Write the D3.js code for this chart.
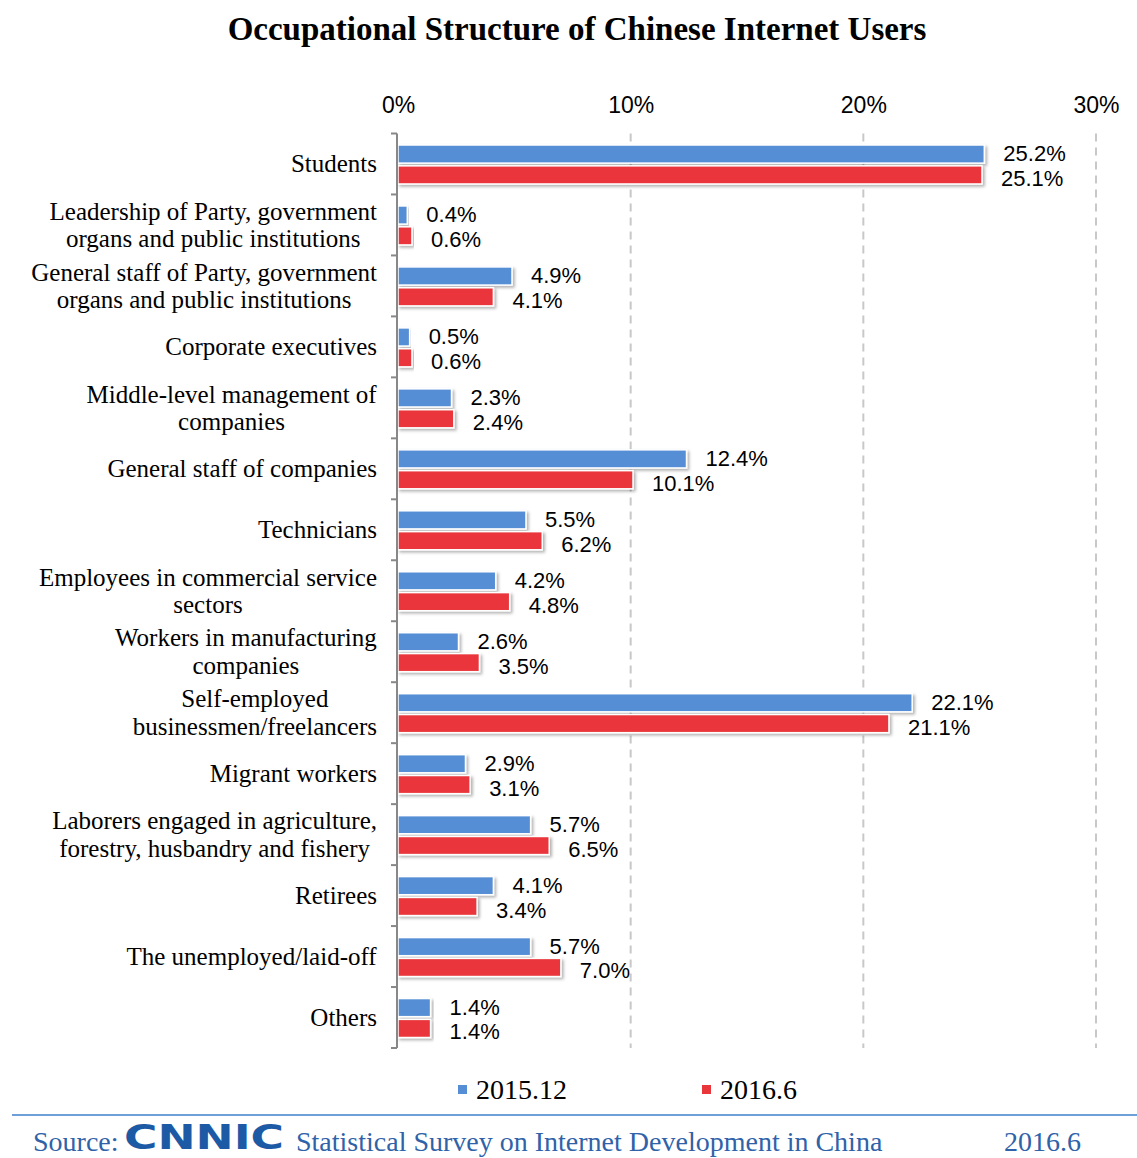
<!DOCTYPE html>
<html><head><meta charset="utf-8">
<script src="https://cdn.jsdelivr.net/npm/d3@7"></script>
<style>
html,body{margin:0;padding:0;background:#fff;}
svg{display:block;}
</style></head>
<body>
<svg id="chart" width="1137" height="1158"></svg>
<script>
const categories = [
  ["Students"],
  ["Leadership of Party, government","organs and public institutions"],
  ["General staff of Party, government","organs and public institutions"],
  ["Corporate executives"],
  ["Middle-level management of","companies"],
  ["General staff of companies"],
  ["Technicians"],
  ["Employees in commercial service","sectors"],
  ["Workers in manufacturing","companies"],
  ["Self-employed","businessmen/freelancers"],
  ["Migrant workers"],
  ["Laborers engaged in agriculture,","forestry, husbandry and fishery"],
  ["Retirees"],
  ["The unemployed/laid-off"],
  ["Others"]
];
const seriesNames = ["2015.12", "2016.6"];
const values2015 = [25.2, 0.4, 4.9, 0.5, 2.3, 12.4, 5.5, 4.2, 2.6, 22.1, 2.9, 5.7, 4.1, 5.7, 1.4];
const values2016 = [25.1, 0.6, 4.1, 0.6, 2.4, 10.1, 6.2, 4.8, 3.5, 21.1, 3.1, 6.5, 3.4, 7.0, 1.4];
const xTicks = [0, 10, 20, 30];
const colors = ["#558ed5", "#e9363a"];

(function () {
const svg = d3.select("#chart");
const serif = "'Liberation Serif','Times New Roman',serif";
const sans = "'Liberation Sans',Arial,sans-serif";

const x = d3.scaleLinear().domain([0, 30]).range([398, 1096]);
const keys = categories.map((d, i) => i);
const plotTop = 133.5, plotBottom = 1048;
const y = d3.scaleBand().domain(keys).range([plotTop, plotBottom]).paddingInner(0).paddingOuter(0);
const ySub = d3.scaleBand().domain([0, 1]).range([11.5, y.bandwidth() - 10.5]).paddingInner(0.13);

// defs: shadow
const defs = svg.append("defs");
const f = defs.append("filter").attr("id", "sh").attr("x", "-5%").attr("y", "-30%").attr("width", "115%").attr("height", "170%");
f.append("feDropShadow").attr("dx", 2).attr("dy", 2).attr("stdDeviation", 1.5).attr("flood-color", "#000").attr("flood-opacity", 0.3);

// title
svg.append("text").attr("x", 577).attr("y", 40).attr("text-anchor", "middle")
  .style("font-family", serif).style("font-weight", "bold").style("font-size", "33px")
  .text("Occupational Structure of Chinese Internet Users");

// gridlines
svg.append("g").selectAll("line").data(xTicks.filter(d => d > 0)).join("line")
  .attr("x1", d => x(d)).attr("x2", d => x(d)).attr("y1", plotTop).attr("y2", plotBottom)
  .attr("stroke", "#c8c8c8").attr("stroke-width", 2).attr("stroke-dasharray", "8,6");

// top axis labels
const xAxis = d3.axisTop(x).tickValues(xTicks).tickFormat(d => d + "%").tickSize(0).tickPadding(0);
const gx = svg.append("g").attr("transform", "translate(0,113)").call(xAxis);
gx.select(".domain").remove();
gx.selectAll("text").style("font-family", sans).style("font-size", "23px").attr("fill", "#000");

// bars
const series = [values2015, values2016];
const labelShift = [-0.5, 3.5];
const gBars = svg.append("g");
series.forEach((vals, si) => {
  gBars.append("g").selectAll("rect").data(vals).join("rect")
    .attr("x", x(0)).attr("y", (d, i) => y(i) + ySub(si))
    .attr("width", d => x(d) - x(0)).attr("height", ySub.bandwidth())
    .attr("fill", colors[si]).attr("stroke", "#fff").attr("stroke-width", 1.5)
    .attr("filter", "url(#sh)");
  gBars.append("g").selectAll("text").data(vals).join("text")
    .attr("x", d => x(d) + 19).attr("y", (d, i) => y(i) + ySub(si) + ySub.bandwidth() / 2 + labelShift[si])
    .attr("dominant-baseline", "central")
    .style("font-family", sans).style("font-size", "22px").attr("fill", "#000")
    .text(d => d.toFixed(1) + "%");
});

// y axis
const yAxisG = svg.append("g");
yAxisG.append("line").attr("x1", 397).attr("x2", 397).attr("y1", plotTop).attr("y2", plotBottom)
  .attr("stroke", "#888").attr("stroke-width", 2);
const bounds = keys.map(k => y(k)).concat([plotBottom]);
yAxisG.selectAll("line.t").data(bounds).join("line").attr("class", "t")
  .attr("x1", 391).attr("x2", 397).attr("y1", d => d).attr("y2", d => d)
  .attr("stroke", "#888").attr("stroke-width", 2);

// category labels
const gLab = svg.append("g").style("font-family", serif).style("font-size", "25px").attr("fill", "#000");
categories.forEach((lines, i) => {
  const cy = y(i) + y.bandwidth() / 2;
  const lh = 27.5;
  const t = gLab.append("text").attr("text-anchor", "middle");
  lines.forEach((ln, j) => {
    t.append("tspan").attr("x", 0)
      .attr("y", cy + (j - (lines.length - 1) / 2) * lh)
      .attr("dominant-baseline", "central").text(ln);
  });
  const w = t.node().getBBox().width;
  t.attr("transform", `translate(${377 - w / 2},0)`);
});

// legend
const lg = svg.append("g").style("font-family", serif).style("font-size", "28px");
const legX = [458, 702];
seriesNames.forEach((n, i) => {
  lg.append("rect").attr("x", legX[i]).attr("y", 1085).attr("width", 9).attr("height", 9).attr("fill", colors[i]);
  lg.append("text").attr("x", legX[i] + 18).attr("y", 1099).text(n);
});

// footer
svg.append("line").attr("x1", 12).attr("x2", 1137).attr("y1", 1115).attr("y2", 1115)
  .attr("stroke", "#6f9fd8").attr("stroke-width", 2);
const ft = svg.append("g").style("font-family", serif).style("font-size", "28px").attr("fill", "#2f62a8");
ft.append("text").attr("x", 33).attr("y", 1151).text("Source:");
ft.append("text").attr("x", 124).attr("y", 1149).attr("textLength", 160).attr("lengthAdjust", "spacingAndGlyphs")
  .style("font-family", "'DejaVu Sans',sans-serif").style("font-weight", "bold").style("font-size", "34px")
  .attr("fill", "#1d5aa5").text("CNNIC");
ft.append("text").attr("x", 296).attr("y", 1151).text("Statistical Survey on Internet Development in China");
ft.append("text").attr("x", 1004).attr("y", 1151).text("2016.6");
})();
</script>
</body></html>
